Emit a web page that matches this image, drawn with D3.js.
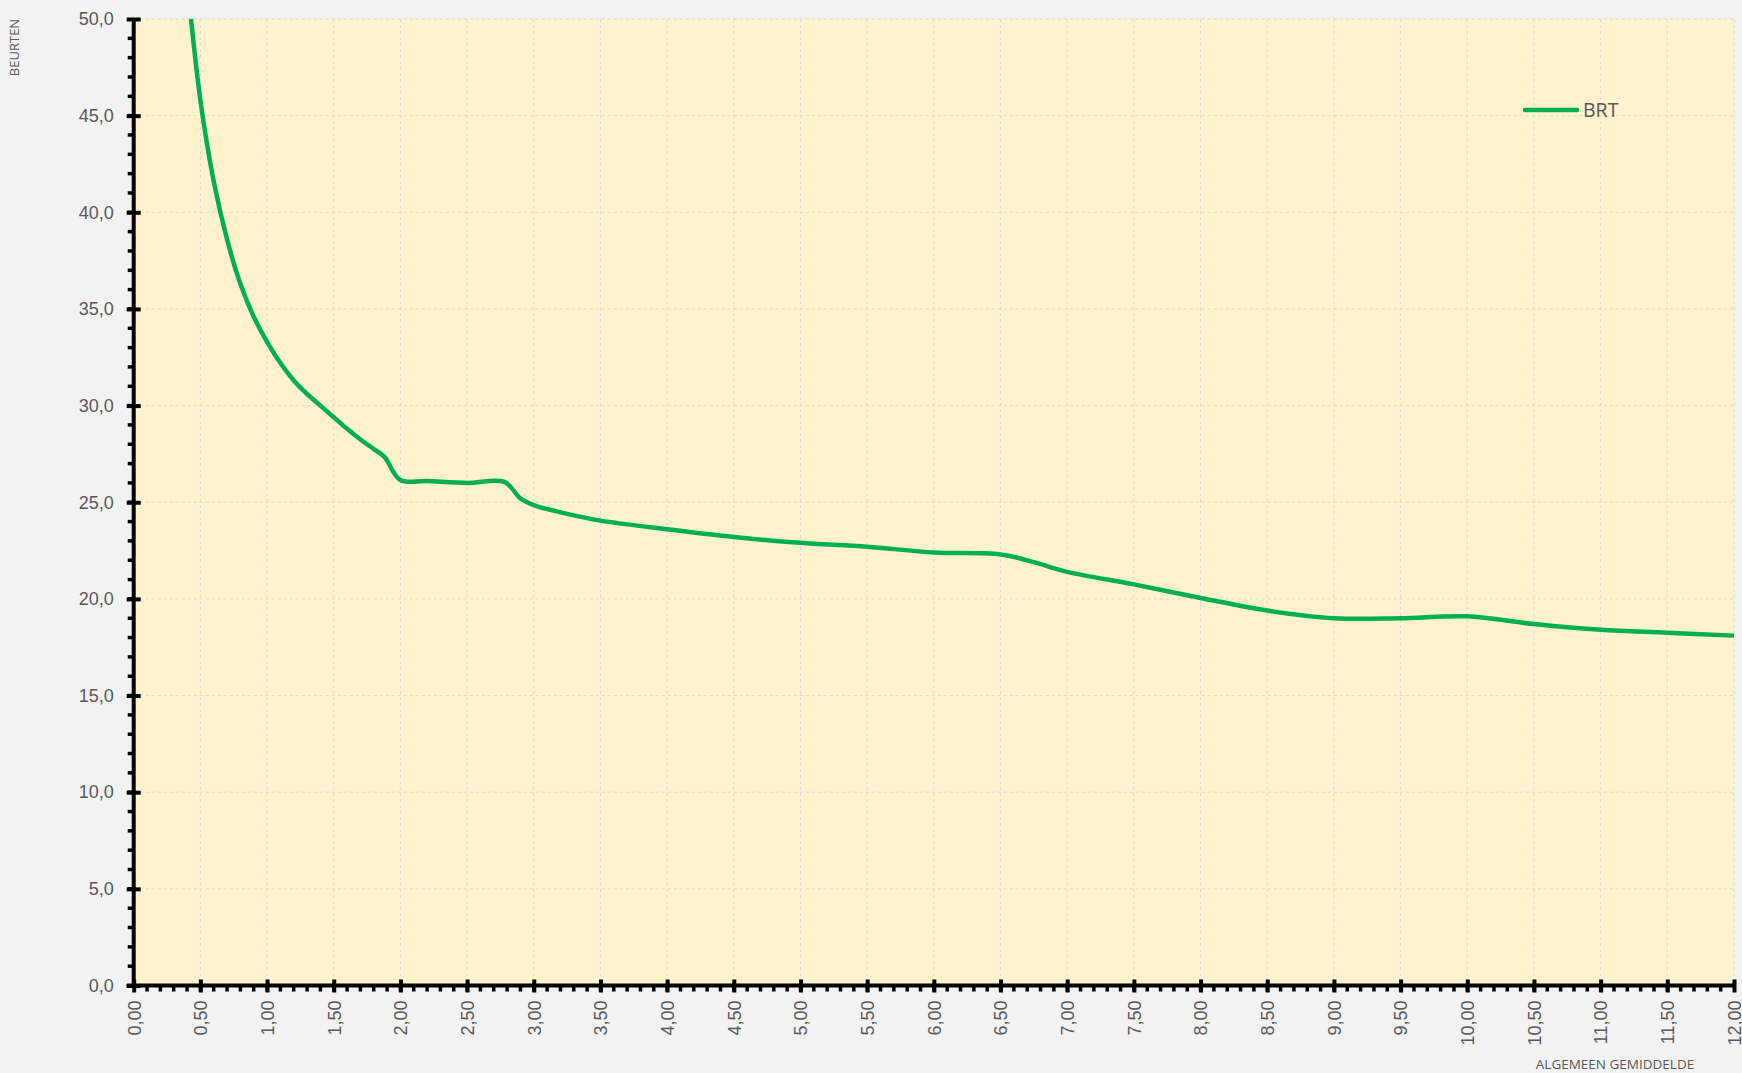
<!DOCTYPE html>
<meta charset="utf-8">
<style>
body { margin: 0; background: #f2f2f2; }
svg { display: block; font-family: "Open Sans", sans-serif; }
.grid line { stroke: #d9d9d9; stroke-dasharray: 3,3; stroke-width: 1; }
.axis text { fill: #595959; font-size: 18px; }
</style>
<svg width="1742" height="1073"></svg>
<script src="https://d3js.org/d3.v7.min.js"></script>
<script>

// BRT curve
var xValues = [0.43, 0.5, 0.6, 0.7, 0.8, 0.9, 1.0, 1.1, 1.2, 1.3, 1.4, 1.5, 1.6, 1.7, 1.8, 1.88, 2.0, 2.2, 2.5, 2.78, 2.9, 3.0, 3.25, 3.5,
               4.0, 4.5, 5.0, 5.5, 6.0, 6.5, 6.75, 7.0, 7.5, 8.0, 8.5, 9.0, 9.5, 10.0, 10.5, 11.0, 11.5, 12.0];
var brt = [50, 45.8, 41.6, 38.6, 36.3, 34.6, 33.3, 32.2, 31.3, 30.6, 30.0, 29.4, 28.8, 28.25, 27.75, 27.35, 26.15, 26.1, 26.0, 26.05, 25.2, 24.85, 24.4, 24.05,
           23.6, 23.2, 22.9, 22.7, 22.4, 22.3, 21.9, 21.4, 20.75, 20.05, 19.4, 19.0, 19.0, 19.1, 18.7, 18.4, 18.25, 18.1];
var seriesName = "BRT";
var xTicks = d3.range(0, 12.001, 0.5);
var yTicks = d3.range(0, 50.001, 5);

var svg = d3.select("svg");
var plotLeft = 133.7, plotRight = 1734, plotTop = 19, plotBottom = 985.5;

var x = d3.scaleLinear().domain([0, 12]).range([plotLeft, plotRight]);
var y = d3.scaleLinear().domain([0, 50]).range([plotBottom, plotTop]);

svg.append("rect")
    .attr("x", plotLeft).attr("y", plotTop)
    .attr("width", plotRight - plotLeft).attr("height", plotBottom - plotTop)
    .attr("fill", "#fff2cc");

// gridlines
var grid = svg.append("g").attr("class", "grid");
grid.selectAll(".gx").data(xTicks.filter(function(d) { return d > 0; }))
  .enter().append("line")
    .attr("x1", function(d) { return x(d); }).attr("x2", function(d) { return x(d); })
    .attr("y1", plotTop).attr("y2", plotBottom);
grid.selectAll(".gy").data(yTicks.filter(function(d) { return d > 0; }))
  .enter().append("line")
    .attr("x1", plotLeft).attr("x2", plotRight)
    .attr("y1", function(d) { return y(d); }).attr("y2", function(d) { return y(d); });

// the line
var line = d3.line()
    .x(function(d) { return x(d[0]); })
    .y(function(d) { return y(d[1]); })
    .curve(d3.curveCatmullRom.alpha(0.5));

svg.append("path")
    .datum(d3.zip(xValues, brt))
    .attr("fill", "none")
    .attr("stroke", "#00b050")
    .attr("stroke-width", 4.5)
    .attr("stroke-linejoin", "round")
    .attr("d", line);

// minor ticks
var minor = svg.append("g").attr("stroke", "#000").attr("stroke-width", 3.5);
minor.selectAll(".my").data(d3.range(1, 50, 1))
  .enter().append("line")
    .attr("x1", plotLeft - 6).attr("x2", plotLeft)
    .attr("y1", function(d) { return y(d); }).attr("y2", function(d) { return y(d); });
minor.selectAll(".mx").data(d3.range(1, 120, 1).map(function(i) { return i / 10; }))
  .enter().append("line")
    .attr("x1", function(d) { return x(d); }).attr("x2", function(d) { return x(d); })
    .attr("y1", plotBottom).attr("y2", plotBottom + 6);

// y axis
var yAxis = svg.append("g")
    .attr("class", "axis")
    .attr("transform", "translate(" + plotLeft + ",0)")
    .call(d3.axisLeft(y).tickValues(yTicks).tickSize(7).tickPadding(13)
      .tickFormat(function(d) { return d3.format(".1f")(d).replace(".", ","); }));
yAxis.select(".domain").remove();
yAxis.selectAll(".tick line").attr("x1", 7).attr("stroke", "#000").attr("stroke-width", 4);

// x axis
var xAxis = svg.append("g")
    .attr("class", "axis")
    .attr("transform", "translate(0," + plotBottom + ")")
    .call(d3.axisBottom(x).tickValues(xTicks).tickSize(7)
      .tickFormat(function(d) { return d3.format(".2f")(d).replace(".", ","); }));
xAxis.select(".domain").remove();
xAxis.selectAll(".tick line").attr("y1", -6).attr("stroke", "#000").attr("stroke-width", 4);
xAxis.selectAll(".tick text")
    .attr("transform", "rotate(-90)")
    .attr("x", -15).attr("y", 0).attr("dy", "0.35em")
    .style("text-anchor", "end");

// axis lines
svg.append("line")
    .attr("x1", plotLeft).attr("x2", plotLeft).attr("y1", plotTop).attr("y2", plotBottom + 2)
    .attr("stroke", "#000").attr("stroke-width", 4);
svg.append("line")
    .attr("x1", plotLeft - 7).attr("x2", plotRight).attr("y1", plotBottom).attr("y2", plotBottom)
    .attr("stroke", "#000").attr("stroke-width", 4);

// axis titles
svg.append("text")
    .attr("transform", "translate(19,47.5) rotate(-90)")
    .style("text-anchor", "middle")
    .style("font-size", "13px")
    .attr("fill", "#595959")
    .text("BEURTEN");

svg.append("text")
    .attr("x", 1615).attr("y", 1069)
    .style("text-anchor", "middle")
    .style("font-size", "13.5px")
    .attr("fill", "#595959")
    .text("ALGEMEEN GEMIDDELDE");

// legend
svg.append("line")
    .attr("x1", 1525).attr("x2", 1577).attr("y1", 110).attr("y2", 110)
    .attr("stroke", "#00b050").attr("stroke-width", 4.5).attr("stroke-linecap", "round");
svg.append("text")
    .attr("x", 1583).attr("y", 117)
    .style("font-size", "19.5px")
    .attr("fill", "#595959")
    .text(seriesName);

</script>
